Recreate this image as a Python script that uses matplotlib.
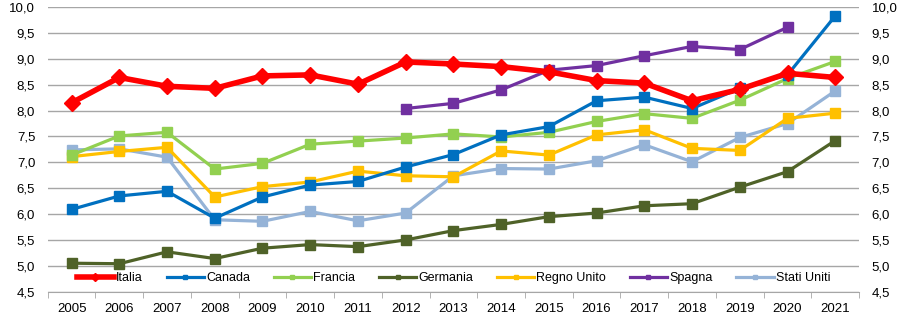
import numpy as np
import matplotlib.pyplot as plt
from matplotlib.ticker import FixedLocator, FuncFormatter

plt.rcParams['font.family'] = ['Liberation Sans', 'DejaVu Sans']

# Data
years = list(range(2005, 2022))

italia = [8.15, 8.64, 8.47, 8.43, 8.67, 8.69, 8.51, 8.94, 8.90, 8.85, 8.75, 8.58, 8.53, 8.19, 8.41, 8.72, 8.64]
canada = [6.09, 6.35, 6.44, 5.92, 6.33, 6.56, 6.63, 6.91, 7.15, 7.53, 7.69, 8.19, 8.26, 8.04, 8.43, 8.69, 9.83]
francia = [7.14, 7.51, 7.58, 6.87, 6.98, 7.35, 7.41, 7.47, 7.55, 7.49, 7.58, 7.79, 7.94, 7.85, 8.20, 8.62, 8.95]
germania = [5.05, 5.04, 5.27, 5.14, 5.34, 5.41, 5.37, 5.50, 5.68, 5.80, 5.95, 6.02, 6.16, 6.20, 6.52, 6.82, 7.42]
regno_unito = [7.11, 7.21, 7.29, 6.33, 6.53, 6.62, 6.83, 6.74, 6.72, 7.22, 7.14, 7.53, 7.63, 7.27, 7.23, 7.85, 7.95]
spagna = [None] * 7 + [8.04, 8.14, 8.40, 8.78, 8.87, 9.06, 9.24, 9.18, 9.61, None]
stati_uniti = [7.24, 7.26, 7.10, 5.89, 5.86, 6.05, 5.87, 6.02, 6.74, 6.88, 6.87, 7.03, 7.34, 7.01, 7.48, 7.75, 8.38]

series = [
    ('Italia', italia, '#FF0000', 'D', 4.0, 8),
    ('Canada', canada, '#0070C0', 's', 2.3, 6.5),
    ('Francia', francia, '#92D050', 's', 2.3, 6.5),
    ('Germania', germania, '#4F6228', 's', 2.3, 6.5),
    ('Regno Unito', regno_unito, '#FFC000', 's', 2.3, 6.5),
    ('Spagna', spagna, '#7030A0', 's', 2.3, 6.5),
    ('Stati Uniti', stati_uniti, '#95B3D7', 's', 2.3, 6.5),
]

fig = plt.figure(figsize=(9.21, 3.23), dpi=100)
ax = fig.add_axes([0.0518, 0.097, 0.881, 0.881])

x = np.arange(len(years))
handles = []
# Italia drawn last so it sits on top
for name, vals, col, mk, lw, ms in series[::-1]:
    y = np.array([np.nan if v is None else v for v in vals], dtype=float)
    h, = ax.plot(x, y, color=col, lw=lw, marker=mk, ms=ms, label=name,
                 zorder=4 if name == 'Italia' else 3)
    handles.append(h)
handles = handles[::-1]

ax.set_xlim(-0.5, len(years) - 0.5)
ax.set_ylim(4.5, 10.0)
ax.set_yticks(np.arange(4.5, 10.01, 0.5))
fmt = FuncFormatter(lambda v, p: f'{v:.1f}'.replace('.', ','))
ax.yaxis.set_major_formatter(fmt)
ax.grid(axis='y', color='#A6A6A6', lw=1.0, zorder=0)

ax.set_xticks(x)
ax.set_xticklabels([str(y) for y in years])
ax.xaxis.set_minor_locator(FixedLocator(np.arange(-0.5, len(years), 1.0)))
ax.tick_params(axis='x', which='major', length=0, pad=8, labelsize=9.5)
ax.tick_params(axis='x', which='minor', length=4, color='#A6A6A6', direction='out')
ax.tick_params(axis='y', length=0, labelsize=9.5, pad=9, labelleft=True, labelright=True)

for s in ['top', 'left', 'right']:
    ax.spines[s].set_visible(False)
ax.spines['bottom'].set_color('#A6A6A6')

leg = ax.legend(handles=handles, ncol=7, loc='center', bbox_to_anchor=(0.5, 0.048),
                frameon=False, fontsize=9, handlelength=3.0, handletextpad=0.15,
                columnspacing=1.9, borderaxespad=0, markerscale=0.5)

fig.savefig('out.png', dpi=100)
